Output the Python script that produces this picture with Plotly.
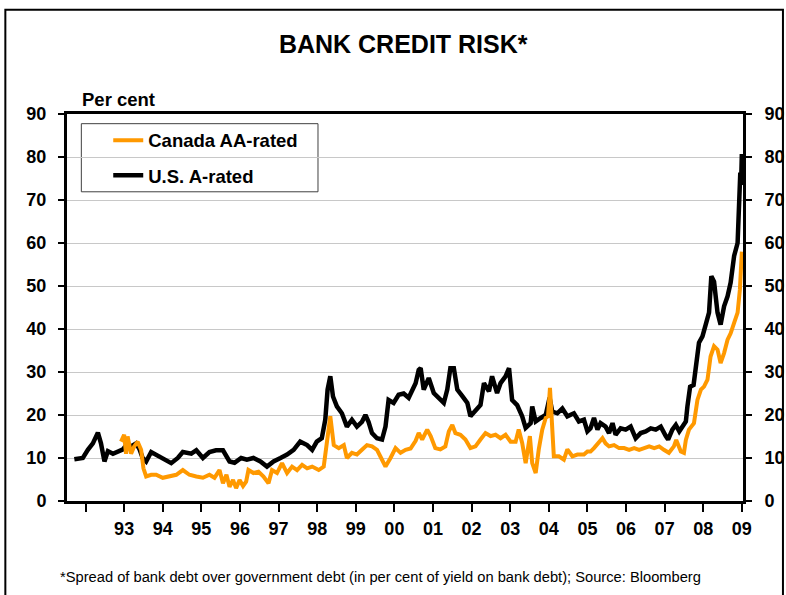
import plotly.graph_objects as go

# ---- data (decimal years, per cent) ----
us_t = [1991.71, 1991.85, 1991.93, 1992.06, 1992.19, 1992.32, 1992.40, 1992.49, 1992.58, 1992.71,
        1992.83, 1992.97, 1993.09, 1993.18, 1993.31, 1993.40, 1993.48, 1993.57, 1993.70, 1993.83,
        1994.00, 1994.22, 1994.39, 1994.52, 1994.74, 1994.87, 1995.04, 1995.21, 1995.38, 1995.56,
        1995.73, 1995.86, 1996.03, 1996.18, 1996.35, 1996.53, 1996.70, 1996.87, 1997.05, 1997.22,
        1997.39, 1997.56, 1997.74, 1997.87, 1997.99, 1998.12, 1998.21, 1998.27, 1998.34, 1998.41,
        1998.51, 1998.64, 1998.77, 1998.90, 1999.03, 1999.16, 1999.25, 1999.33, 1999.42, 1999.55,
        1999.68, 1999.77, 1999.85, 1999.98, 2000.11, 2000.24, 2000.37, 2000.42, 2000.55, 2000.63,
        2000.68, 2000.76, 2000.89, 2001.02, 2001.15, 2001.28, 2001.37, 2001.45, 2001.54, 2001.63,
        2001.76, 2001.89, 2001.97, 2002.10, 2002.23, 2002.32, 2002.45, 2002.53, 2002.66, 2002.75,
        2002.88, 2002.97, 2003.05, 2003.18, 2003.31, 2003.40, 2003.53, 2003.57, 2003.66, 2003.79,
        2003.92, 2004.02, 2004.09, 2004.22, 2004.35, 2004.48, 2004.65, 2004.78, 2004.91, 2005.00,
        2005.08, 2005.17, 2005.26, 2005.34, 2005.47, 2005.56, 2005.65, 2005.73, 2005.86, 2005.99,
        2006.12, 2006.25, 2006.38, 2006.51, 2006.64, 2006.77, 2006.90, 2007.03, 2007.09, 2007.20,
        2007.29, 2007.38, 2007.46, 2007.55, 2007.59, 2007.66, 2007.75, 2007.81, 2007.89, 2007.98,
        2008.07, 2008.15, 2008.21, 2008.28, 2008.37, 2008.45, 2008.54, 2008.63, 2008.71, 2008.80,
        2008.89, 2008.93, 2008.96, 2008.98, 2009.00]
us_v = [9.7, 9.9, 10.0, 11.9, 13.4, 15.9, 13.4, 9.2, 11.6, 11.0,
        11.4, 12.0, 13.4, 12.7, 13.4, 12.0, 10.0, 9.2, 11.4, 10.8,
        10.0, 8.8, 10.0, 11.4, 11.0, 11.8, 10.0, 11.4, 11.8, 11.8,
        9.2, 8.9, 10.0, 9.6, 10.0, 9.2, 8.0, 9.2, 10.0, 10.8,
        11.9, 13.8, 13.0, 11.9, 13.8, 14.6, 18.9, 25.9, 29.0, 24.3,
        22.0, 20.4, 17.3, 18.9, 17.3, 18.4, 20.0, 18.4, 15.8, 14.6,
        14.3, 17.3, 23.5, 22.8, 24.7, 25.0, 24.0, 25.1, 27.4, 30.5,
        30.9, 25.9, 28.6, 25.1, 23.9, 22.8, 25.9, 30.9, 30.9, 25.9,
        24.4, 22.8, 19.7, 21.1, 22.3, 27.4, 25.5, 29.0, 25.1, 27.4,
        29.0, 30.9, 23.5, 22.3, 19.7, 17.0, 18.1, 22.0, 18.5, 19.3,
        20.0, 24.0, 20.8, 20.4, 21.5, 19.7, 20.4, 18.5, 18.9, 16.2,
        16.9, 19.3, 16.6, 18.1, 17.3, 15.8, 18.1, 15.4, 16.9, 16.6,
        17.3, 14.6, 15.8, 16.2, 16.9, 16.6, 17.3, 15.1, 14.3, 16.6,
        17.7, 16.2, 17.3, 18.5, 22.0, 26.6, 27.0, 30.5, 36.8, 38.3,
        41.4, 43.8, 52.3, 51.0, 43.8, 41.0, 45.3, 47.6, 50.8, 57.0,
        60.0, 68.6, 76.4, 73.5, 80.7]

ca_t = [1992.92, 1993.00, 1993.05, 1993.09, 1993.18, 1993.26, 1993.35, 1993.44, 1993.50, 1993.57,
        1993.70, 1993.83, 1994.00, 1994.17, 1994.35, 1994.52, 1994.69, 1994.87, 1995.04, 1995.21,
        1995.34, 1995.47, 1995.56, 1995.65, 1995.73, 1995.82, 1995.90, 1995.99, 1996.08, 1996.16,
        1996.22, 1996.35, 1996.48, 1996.61, 1996.74, 1996.83, 1996.96, 1997.09, 1997.22, 1997.35,
        1997.48, 1997.61, 1997.74, 1997.87, 1998.04, 1998.17, 1998.26, 1998.34, 1998.43, 1998.56,
        1998.69, 1998.77, 1998.90, 1999.03, 1999.16, 1999.29, 1999.42, 1999.55, 1999.68, 1999.77,
        1999.90, 2000.03, 2000.16, 2000.29, 2000.42, 2000.55, 2000.63, 2000.72, 2000.85, 2000.94,
        2001.06, 2001.19, 2001.32, 2001.41, 2001.50, 2001.58, 2001.71, 2001.84, 2001.97, 2002.10,
        2002.23, 2002.36, 2002.49, 2002.62, 2002.75, 2002.88, 2003.01, 2003.14, 2003.22, 2003.31,
        2003.40, 2003.46, 2003.51, 2003.57, 2003.66, 2003.74, 2003.83, 2003.92, 2003.98, 2004.03,
        2004.08, 2004.13, 2004.26, 2004.39, 2004.48, 2004.61, 2004.74, 2004.91, 2005.00, 2005.08,
        2005.17, 2005.30, 2005.39, 2005.47, 2005.56, 2005.69, 2005.82, 2005.95, 2006.08, 2006.21,
        2006.34, 2006.47, 2006.60, 2006.73, 2006.86, 2006.98, 2007.11, 2007.24, 2007.30, 2007.42,
        2007.50, 2007.55, 2007.63, 2007.76, 2007.85, 2007.94, 2008.02, 2008.11, 2008.19, 2008.28,
        2008.37, 2008.45, 2008.54, 2008.63, 2008.71, 2008.80, 2008.89, 2008.95, 2009.00]
ca_v = [13.8, 15.4, 11.0, 15.0, 11.0, 12.7, 13.8, 11.9, 7.6, 5.7,
        6.1, 6.1, 5.4, 5.7, 6.1, 7.2, 6.1, 5.7, 5.4, 6.1,
        5.4, 7.2, 4.1, 6.1, 3.3, 4.9, 3.0, 4.9, 3.5, 4.5,
        7.2, 6.5, 6.8, 5.7, 4.1, 7.2, 6.5, 8.8, 6.5, 8.0,
        7.2, 8.4, 7.6, 8.0, 7.2, 8.0, 13.8, 19.7, 13.0, 12.3,
        13.0, 10.0, 11.2, 10.8, 11.9, 13.0, 12.7, 11.9, 9.6, 8.0,
        10.0, 12.3, 11.2, 11.9, 12.2, 14.0, 15.8, 14.3, 16.6, 15.1,
        12.3, 12.0, 12.7, 16.2, 17.7, 15.8, 15.4, 14.3, 12.3, 12.7,
        14.3, 15.8, 15.1, 15.4, 14.6, 15.4, 13.8, 13.8, 16.6, 13.5,
        8.8, 12.0, 15.1, 8.8, 6.5, 12.0, 16.6, 19.3, 19.7, 26.3,
        19.7, 10.4, 10.4, 9.6, 12.0, 10.4, 10.8, 10.8, 11.5, 11.5,
        12.3, 13.8, 14.6, 13.4, 12.7, 13.0, 12.3, 12.3, 11.9, 12.3,
        11.9, 12.3, 12.7, 12.3, 12.7, 11.9, 11.2, 12.7, 14.2, 11.5,
        11.2, 14.2, 16.6, 18.1, 23.5, 25.9, 26.6, 28.2, 33.6, 36.0,
        35.2, 32.1, 34.4, 37.5, 39.0, 41.4, 43.8, 49.2, 58.0]

x_ticks = list(range(1992, 2010))
x_labels = [""] + ["93", "94", "95", "96", "97", "98", "99", "00", "01", "02",
                   "03", "04", "05", "06", "07", "08", "09"]
y_ticks = [0, 10, 20, 30, 40, 50, 60, 70, 80, 90]

FONT = "Liberation Sans, Arial, sans-serif"
ORANGE = "#FF9900"

fig = go.Figure()
fig.add_trace(go.Scatter(x=us_t, y=us_v, mode="lines", name="U.S. A-rated",
                         line=dict(color="black", width=4.5), yaxis="y",
                         legendgroup="us", legendrank=2))
fig.add_trace(go.Scatter(x=ca_t, y=ca_v, mode="lines", name="Canada AA-rated",
                         line=dict(color=ORANGE, width=4), yaxis="y2",
                         legendgroup="ca", legendrank=1))

tickfont = dict(family=FONT, size=18, color="black", weight="bold")
yax = dict(range=[0, 90], tickvals=y_ticks, ticks="outside", ticklen=6, tickwidth=2,
           tickcolor="black", showline=True, linewidth=3, linecolor="black",
           tickfont=tickfont, zeroline=False, fixedrange=True, automargin=False)

fig.update_layout(
    width=786, height=595,
    margin=dict(l=67, r=43, t=114, b=94),
    paper_bgcolor="white", plot_bgcolor="white",
    title=dict(text="BANK CREDIT RISK*", x=0.513, xanchor="center", y=0.926, yanchor="middle",
               font=dict(family=FONT, size=25, color="black", weight="bold")),
    xaxis=dict(range=[1991.52, 2009.03], tickvals=x_ticks, ticktext=x_labels,
               ticks="outside", ticklen=8, tickwidth=2, tickcolor="black",
               showline=True, linewidth=3, linecolor="black", mirror=True,
               showgrid=False, zeroline=False, tickfont=tickfont, ticklabelstandoff=1,
               automargin=False),
    yaxis=dict(**yax, side="left", showgrid=True, gridcolor="#c8c8c8", gridwidth=1,
               ticklabelstandoff=8),
    yaxis2=dict(**yax, side="right", overlaying="y", anchor="x", showgrid=False,
                ticklabelstandoff=9),
    showlegend=True,
    legend=dict(x=0.061, y=0.98, xanchor="left", yanchor="top", bgcolor="rgba(0,0,0,0)",
                borderwidth=0, traceorder="grouped", tracegroupgap=8,
                font=dict(family=FONT, size=18.5, color="black", weight="bold")),
    annotations=[
        dict(text="Per cent", xref="paper", yref="paper", x=0.0197, y=1.037,
             xanchor="left", yanchor="middle", showarrow=False,
             font=dict(family=FONT, size=18.5, color="black", weight="bold")),
        dict(text="*Spread of bank debt over government debt (in per cent of yield on bank debt); Source: Bloomberg",
             xref="paper", yref="paper", x=-0.0129, y=-0.1956, xanchor="left", yanchor="middle",
             showarrow=False, font=dict(family=FONT, size=14.7, color="black")),
    ],
    shapes=[
        # legend box
        dict(type="rect", xref="paper", yref="paper", x0=0.0212, x1=0.3713, y0=0.799, y1=0.975,
             line=dict(color="#404040", width=1), fillcolor="white", layer="below"),
        # outer frame
        dict(type="rect", xref="paper", yref="paper", x0=-0.0912, x1=1.0591, y0=-0.3, y1=1.2695,
             line=dict(color="black", width=2), fillcolor="rgba(0,0,0,0)"),
    ],
)

fig.write_html("out.html", config={"displayModeBar": False},
               post_script="document.body.style.margin='0px';")
